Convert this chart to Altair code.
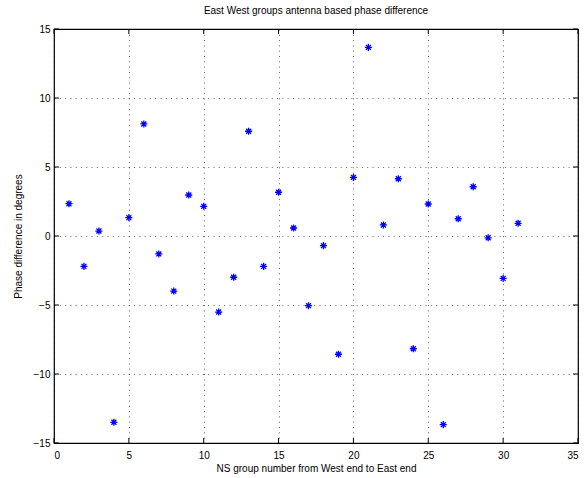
import altair as alt
import pandas as pd

# Data
groups = list(range(1, 32))
phase = [2.34, -2.20, 0.36, -13.5, 1.33, 8.12, -1.30, -3.99, 2.97, 2.15,
         -5.51, -2.99, 7.59, -2.20, 3.17, 0.58, -5.05, -0.70, -8.57, 4.25,
         13.67, 0.80, 4.15, -8.17, 2.32, -13.67, 1.25, 3.57, -0.13, -3.07, 0.92]

x_ticks = [0, 5, 10, 15, 20, 25, 30, 35]
y_ticks = [-15, -10, -5, 0, 5, 10, 15]

W, H = 524, 414
FONT = "Liberation Sans"

df = pd.DataFrame({"group": groups, "phase": phase})
xt = pd.DataFrame({"t": x_ticks})
yt = pd.DataFrame({"t": y_ticks})

xscale = alt.Scale(domain=[0, 35], nice=False, zero=False)
yscale = alt.Scale(domain=[-15, 15], nice=False, zero=False)

star = "M-1,0L1,0M0,-1L0,1M-0.7,-0.7L0.7,0.7M-0.7,0.7L0.7,-0.7"

points = alt.Chart(df).mark_point(
    shape=star, filled=False, color="#0000ff", size=50, strokeWidth=1.3, opacity=1
).encode(
    x=alt.X("group:Q", scale=xscale,
            axis=alt.Axis(values=x_ticks, grid=True, gridColor="#000000",
                          gridDash=[1, 4.3], gridOpacity=0.6, ticks=False, domain=False,
                          labelPadding=7, labelFontSize=10, labelFont=FONT,
                          labelColor="#000000",
                          title="NS group number from West end to East end",
                          titleFont=FONT, titleFontSize=10, titleFontWeight="normal",
                          titleColor="#000000", titleY=25, titleBaseline="middle")),
    y=alt.Y("phase:Q", scale=yscale,
            axis=alt.Axis(values=y_ticks, grid=True, gridColor="#000000",
                          gridDash=[1, 4.3], gridOpacity=0.6, ticks=False, domain=False,
                          labelPadding=4, labelFontSize=10, labelFont=FONT,
                          labelColor="#000000",
                          title="Phase difference in degrees",
                          titleFont=FONT, titleFontSize=10, titleFontWeight="normal",
                          titleColor="#000000", titleX=-36, titleY=H / 2,
                          titleAngle=-90, titleAlign="center", titleBaseline="middle")),
)

tick_len = 5
bottom_ticks = alt.Chart(xt).mark_rule(color="black", strokeWidth=1).encode(
    x=alt.X("t:Q", scale=xscale), y=alt.value(H), y2=alt.value(H - tick_len))
top_ticks = alt.Chart(xt).mark_rule(color="black", strokeWidth=1).encode(
    x=alt.X("t:Q", scale=xscale), y=alt.value(0), y2=alt.value(tick_len))
left_ticks = alt.Chart(yt).mark_rule(color="black", strokeWidth=1).encode(
    y=alt.Y("t:Q", scale=yscale), x=alt.value(0), x2=alt.value(tick_len))
right_ticks = alt.Chart(yt).mark_rule(color="black", strokeWidth=1).encode(
    y=alt.Y("t:Q", scale=yscale), x=alt.value(W), x2=alt.value(W - tick_len))

chart = alt.layer(points, bottom_ticks, top_ticks, left_ticks, right_ticks).properties(
    width=W, height=H,
    title=alt.TitleParams("East West groups antenna based phase difference",
                          font=FONT, fontSize=10, fontWeight="normal",
                          color="#000000", offset=8, anchor="middle"),
    autosize=alt.AutoSizeParams(type="none"),
    padding={"left": 54, "top": 29, "right": 6, "bottom": 35},
    background="white",
).configure_view(stroke="#000000", strokeWidth=1.2)

chart.save("out.html", embed_options={"renderer": "svg", "actions": False})
